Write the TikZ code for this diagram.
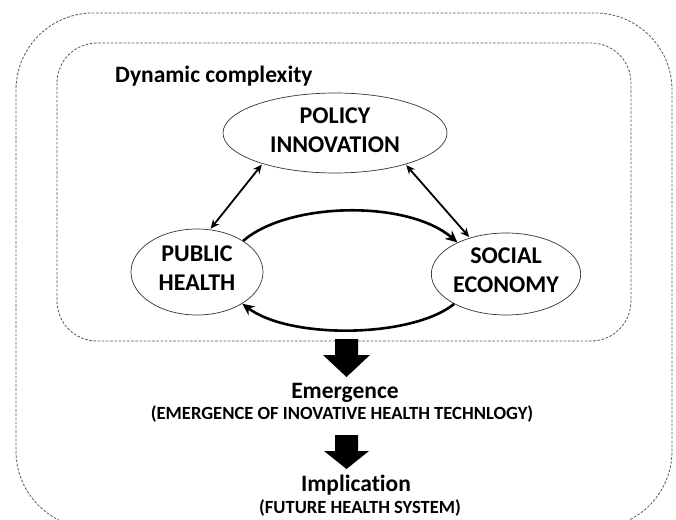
\documentclass[tikz,border=0pt]{standalone}
\usepackage{fontspec}
\setmainfont{Carlito}[Ligatures=NoCommon]
\usetikzlibrary{arrows.meta,shapes.geometric}
% invisible rule that gives the last text line some depth
\newcommand\dropby[1]{\rule[-#1]{0pt}{0pt}}
\begin{document}
\begin{tikzpicture}[x=1pt,y=-1pt,
  frame/.style={draw=black!65,line width=0.8pt,dash pattern=on 2.6pt off 1.6pt},
  oval/.style={ellipse,draw=black!80,line width=0.7pt,inner sep=0pt,align=center,
    font=\fontsize{24}{29}\selectfont\bfseries},
  link/.style={line width=1.8pt,{Stealth[length=9pt,width=8pt]}-{Stealth[length=9pt,width=8pt]}},
  flow/.style={line width=2.6pt,-{Stealth[length=12pt,width=11pt]}},
  bigarrow/.style={fill=black},
  heading/.style={anchor=base,inner sep=0pt,font=\fontsize{23.5}{26}\selectfont\bfseries},
  sub/.style={anchor=base,inner sep=0pt,font=\fontsize{18.6}{20}\selectfont\bfseries}]
\useasboundingbox (0,0) rectangle (676,519);
\fill[white] (0,0) rectangle (676,519);

% dashed frames
\draw[frame,rounded corners=77pt] (16,13) rectangle (672,528);
\draw[frame,rounded corners=40pt] (57,43) rectangle (631,341);

\node[heading,anchor=base west] (title) at (115,82) {Dynamic complexity};

% the three factors
\node[oval,minimum width=224pt,minimum height=80pt] (pi) at (335,133) {POLICY\\INNOVATION\dropby{6pt}};
\node[oval,minimum width=132pt,minimum height=86pt] (ph) at (197,272) {PUBLIC\\HEALTH\dropby{8pt}};
\node[oval,minimum width=146pt,minimum height=82pt] (se) at (506,274) {SOCIAL\\ECONOMY\dropby{8pt}};

% links between factors
\draw[link,shorten <=1pt,shorten >=1pt] (ph.73) -- (pi.203);
\draw[link,shorten <=1pt,shorten >=1pt] (pi.336) -- (se.135);
\draw[flow] (ph.34) .. controls +(45,-39) and +(-50,-43) .. (se.147);
\draw[flow] (se.210) .. controls +(-42,34) and +(48,36) .. (ph.325);

% downward flow
\fill[bigarrow] (335,339) -- (358,339) -- (358,355) -- (370,355) -- (346.5,377)
  -- (323,355) -- (335,355) -- cycle;
\node[heading] (emerg) at (345,398) {Emergence};
\node[sub] (emergsub) at (342,419) {(EMERGENCE OF INOVATIVE HEALTH TECHNLOGY)};
\fill[bigarrow] (335,435) -- (358,435) -- (358,451) -- (369,451) -- (346.5,469)
  -- (324,451) -- (335,451) -- cycle;
\node[heading] (impl) at (356,491) {Implication};
\node[sub] (implsub) at (360,513) {(FUTURE HEALTH SYSTEM)};
\end{tikzpicture}
\end{document}
